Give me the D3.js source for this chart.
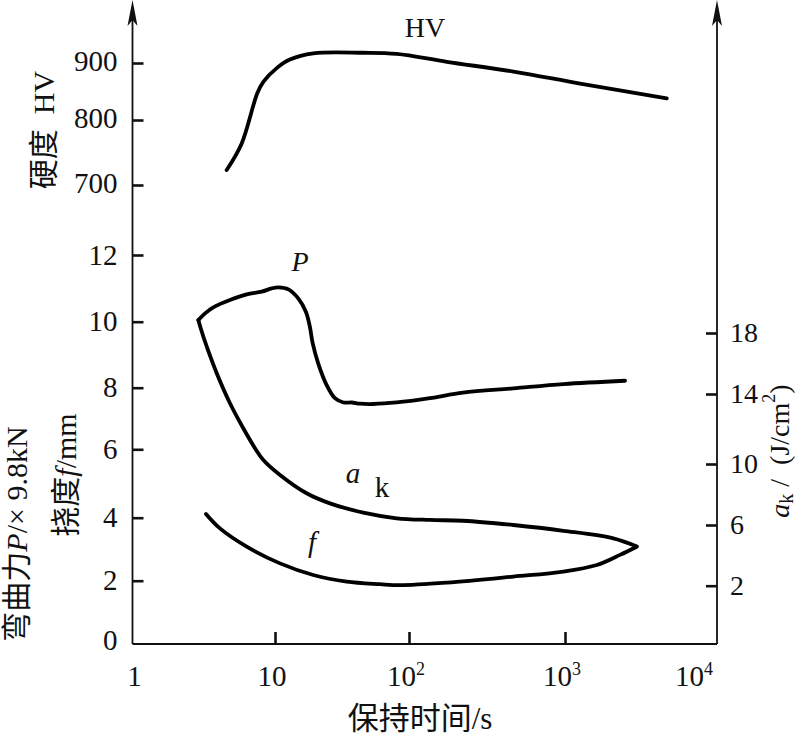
<!DOCTYPE html>
<html><head><meta charset="utf-8">
<script src="https://cdn.jsdelivr.net/npm/d3@7"></script>
<style>
html,body{margin:0;padding:0;background:#fff;}
svg{display:block;}
text{font-family:"Liberation Serif","Times New Roman","Noto Sans CJK SC",serif;fill:#111;}
.cjk{font-family:"Liberation Serif","Noto Sans CJK SC",serif;}
</style>
</head><body>
<svg id="chart" width="800" height="735"></svg>
<script>
// ---------- data ----------
const timeTicks = [1, 10, 100, 1000, 10000];
const timeTickBase = ["1", "10", "10", "10", "10"];
const timeTickExp = ["", "", "2", "3", "4"];
const hvTicks = [700, 800, 900];
const lowTicks = [2, 4, 6, 8, 10, 12];
const akTicks = [2, 6, 10, 14, 18];

// hardness HV vs holding time (s)
const hvTime  = [4.58, 5.84, 7.51, 8.28, 10.3, 12.9, 19.3, 45.6, 80.9, 175, 467, 1255, 4670];
const hvValue = [723, 764, 847, 867, 891, 906, 917, 918, 916, 902, 885, 864, 838];

// bending force P (x9.8kN)
const pTime  = [2.90, 3.23, 3.69, 4.83, 6.33, 8.07, 9.49, 10.6, 12.6, 14.9, 17.0, 18.2, 19.1, 21.0, 24.3, 28.0, 32.4, 37.4, 43.1, 54.2, 80.9, 136, 222, 467, 977, 2484];
const pValue = [10.05, 10.25, 10.43, 10.65, 10.82, 10.90, 11.00, 11.03, 10.97, 10.70, 10.30, 9.85, 9.35, 8.74, 8.08, 7.66, 7.52, 7.52, 7.48, 7.47, 7.52, 7.66, 7.84, 7.98, 8.11, 8.21];

// impact toughness a_k (J/cm2), right axis
const akTime  = [2.90, 3.01, 3.32, 3.90, 4.83, 5.99, 7.24, 8.28, 10.9, 17.2, 25.7, 45.6, 80.9, 136, 222, 467, 977, 2080, 2965];
const akValue = [18.85, 18.31, 17.10, 15.36, 13.47, 12.04, 10.90, 10.23, 9.28, 8.08, 7.42, 6.81, 6.44, 6.33, 6.28, 6.00, 5.62, 5.12, 4.59];

// deflection f (mm)
const fTime  = [3.28, 4.11, 6.33, 10.9, 19.3, 34.3, 60.8, 85.7, 175, 467, 977, 1618, 2300, 2965];
const fValue = [4.11, 3.66, 3.08, 2.55, 2.18, 1.97, 1.89, 1.86, 1.94, 2.13, 2.29, 2.50, 2.82, 3.08];

// ---------- scales ----------
const x = d3.scaleLog().domain(timeTicks).range([132.5, 275, 409, 565, 717]);
const yHV = d3.scaleLinear().domain([700, 800, 900]).range([185, 120, 63]);
const yLow = d3.scaleLinear().domain([0, 2, 4, 6, 8, 10, 12]).range([644, 580.7, 517.7, 449.3, 387.7, 321.7, 255]);
const yAk = d3.scaleLinear().domain([2, 6, 10, 14, 18]).range([585.7, 525, 464, 394, 333]);

const svg = d3.select("#chart");
const X0 = x(1), X1 = x(10000), Y0 = yLow(0);

// ---------- axes lines ----------
const axisG = svg.append("g").attr("stroke", "#111").attr("fill", "none");
axisG.append("line").attr("x1", X0).attr("x2", X0).attr("y1", Y0).attr("y2", 8).attr("stroke-width", 1.8);
axisG.append("line").attr("x1", X1).attr("x2", X1).attr("y1", Y0).attr("y2", 8).attr("stroke-width", 1.8);
axisG.append("line").attr("x1", X0).attr("x2", X1).attr("y1", Y0).attr("y2", Y0).attr("stroke-width", 1.8);

function arrow(cx) {
  svg.append("path")
    .attr("d", `M${cx},0 L${cx + 5},26 L${cx},20 L${cx - 5},26 Z`)
    .attr("fill", "#111");
}
arrow(X0); arrow(X1);

function styleAxis(g, size) {
  g.select(".domain").remove();
  g.selectAll(".tick line").attr("stroke", "#111").attr("stroke-width", 2.6);
  g.selectAll(".tick text").attr("font-size", size).attr("fill", "#111")
    .style("font-family", '"Liberation Serif","Times New Roman",serif');
}
const gHV = svg.append("g").attr("transform", `translate(${X0},0)`)
  .call(d3.axisLeft(yHV).tickValues(hvTicks).tickSize(-11).tickPadding(15));
styleAxis(gHV, 29);
gHV.selectAll(".tick text").attr("dy", "0.25em");

const gLow = svg.append("g").attr("transform", `translate(${X0},0)`)
  .call(d3.axisLeft(yLow).tickValues(lowTicks).tickSize(-11).tickPadding(15));
styleAxis(gLow, 29);
gLow.selectAll(".tick text").attr("dy", "0.32em");
svg.append("text").attr("x", X0 - 15).attr("y", yLow(0)).attr("dy", "0.2em")
  .attr("text-anchor", "end").attr("font-size", 29).text("0");

const gAk = svg.append("g").attr("transform", `translate(${X1},0)`)
  .call(d3.axisRight(yAk).tickValues(akTicks).tickSize(-11).tickPadding(13));
styleAxis(gAk, 28);

const gX = svg.append("g").attr("transform", `translate(0,${Y0})`)
  .call(d3.axisBottom(x).tickValues(timeTicks.slice(1, -1)).tickSize(-12).tickFormat(""));
styleAxis(gX, 29);

const xl = svg.append("g").attr("font-size", 29);
timeTicks.forEach((t, i) => {
  const last = i === timeTicks.length - 1;
  const tx = xl.append("text")
    .attr("x", last ? x(t) - 4 : x(t) + (i === 0 ? 2 : -3))
    .attr("y", 686)
    .attr("text-anchor", last ? "end" : "middle");
  tx.append("tspan").text(timeTickBase[i]);
  if (timeTickExp[i]) tx.append("tspan").attr("font-size", 18).attr("dy", -11).text(timeTickExp[i]);
});

// ---------- curves ----------
const curve = d3.curveCatmullRom.alpha(0.5);
function drawLine(times, vals, ys) {
  const pts = times.map((t, i) => [x(t), ys(vals[i])]);
  svg.append("path")
    .attr("d", d3.line().curve(curve)(pts))
    .attr("fill", "none").attr("stroke", "#000")
    .attr("stroke-width", 3.8).attr("stroke-linecap", "round").attr("stroke-linejoin", "round");
}
drawLine(hvTime, hvValue, yHV);
drawLine(pTime, pValue, yLow);
drawLine(akTime, akValue, yAk);
drawLine(fTime, fValue, yLow);

// ---------- in-plot labels ----------
svg.append("text").attr("x", 425).attr("y", 37).attr("text-anchor", "middle").attr("font-size", 28).text("HV");
svg.append("text").attr("x", 300).attr("y", 271).attr("text-anchor", "middle").attr("font-size", 28).attr("font-style", "italic").text("P");
svg.append("text").attr("x", 353).attr("y", 483).attr("text-anchor", "middle").attr("font-size", 29).attr("font-style", "italic").text("a");
svg.append("text").attr("x", 382).attr("y", 497).attr("text-anchor", "middle").attr("font-size", 29).text("k");
svg.append("text").attr("x", 312).attr("y", 552).attr("text-anchor", "middle").attr("font-size", 29).attr("font-style", "italic").text("f");

// ---------- axis titles ----------
function vtitle(cx, cy, size, parts) {
  const t = svg.append("text").attr("transform", `translate(${cx},${cy}) rotate(-90)`)
    .attr("text-anchor", "middle").attr("dominant-baseline", "central")
    .attr("font-size", size).attr("class", "cjk");
  parts.forEach(p => {
    const s = t.append("tspan").text(p.t);
    if (p.i) s.attr("font-style", "italic");
    if (p.dy) s.attr("dy", p.dy);
    if (p.fs) s.attr("font-size", p.fs);
  });
}
vtitle(43, 130, 30, [{t: "硬度\u2002HV"}]);
vtitle(16, 534, 30, [{t: "弯曲力"}, {t: "P", i: true}, {t: "/× 9.8kN"}]);
vtitle(65, 475, 30, [{t: "挠度"}, {t: "f", i: true}, {t: "/mm"}]);
vtitle(779, 451, 28, [{t: "a", i: true}, {t: "k", dy: 7, fs: 20}, {t: " /\u2002(J/cm", dy: -7}, {t: "2", dy: -10, fs: 18}, {t: ")", dy: 10}]);

svg.append("text").attr("x", 420).attr("y", 729).attr("text-anchor", "middle")
  .attr("font-size", 31).attr("class", "cjk").text("保持时间/s");
</script>
</body></html>
